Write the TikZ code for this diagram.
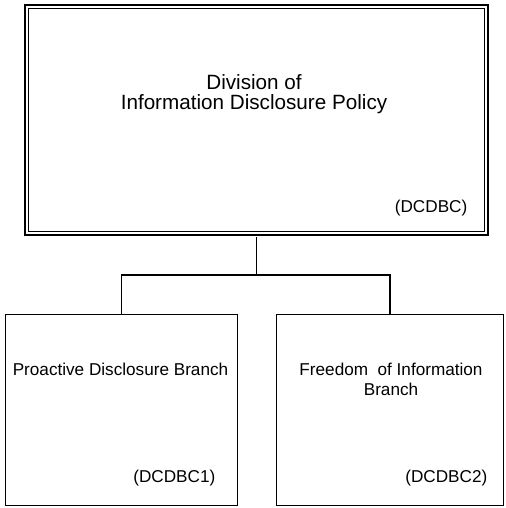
\documentclass[tikz,border=0pt]{standalone}
\usepackage{fontspec}
\setmainfont{Liberation Sans}
\usetikzlibrary{calc,positioning}
\tikzstyle{unitbox}   = [draw, rectangle, line width=1pt, inner sep=0pt]
\tikzstyle{divbox}    = [unitbox, double, line width=1.1pt, double distance=1.6pt, outer sep=2.7pt, minimum width=11.49cm, minimum height=5.665cm]
\tikzstyle{branchbox} = [unitbox, minimum height=4.77cm]
\tikzstyle{divtext}   = [align=center, font=\fontsize{14.7}{14.4}\selectfont]
\tikzstyle{branchtext}= [align=center, font=\fontsize{12.2}{14.2}\selectfont]
\tikzstyle{codetext}  = [anchor=east, inner sep=0pt, font=\fontsize{12.2}{14.2}\selectfont]
\tikzset{
	every path/.style={line width=1pt},
}

\begin{document}
\begin{tikzpicture}
        \useasboundingbox (0,0) rectangle (12.65,12.7);

        \node[divbox] (DIV) at (6.4125,9.7) {};
        \node[divtext] (DIVname) at (6.35,10.35) {Division of\\Information Disclosure Policy};
        \node[codetext] (DIVcode) at (11.7,7.5) {(DCDBC)};

        \node[branchbox, minimum width=5.795cm] (PDB) at (3.0375,2.45) {};
        \node[branchtext] (PDBname) at (3.0125,3.475) {Proactive Disclosure Branch};
        \node[codetext] (PDBcode) at (5.4,0.75) {(DCDBC1)};

        \node[branchbox, minimum width=5.67cm] (FOI) at (9.75,2.45) {};
        \node[branchtext] (FOIname) at (9.775,3.225) {Freedom\ \ of Information\\Branch};
        \node[codetext] (FOIcode) at (12.2,0.75) {(DCDBC2)};

        \coordinate (bus) at (6.4125,5.825);
        \draw (DIV.south) -- (bus);
        \draw (PDB.north) |- (bus) -| (FOI.north);
    \end{tikzpicture}
\end{document}
